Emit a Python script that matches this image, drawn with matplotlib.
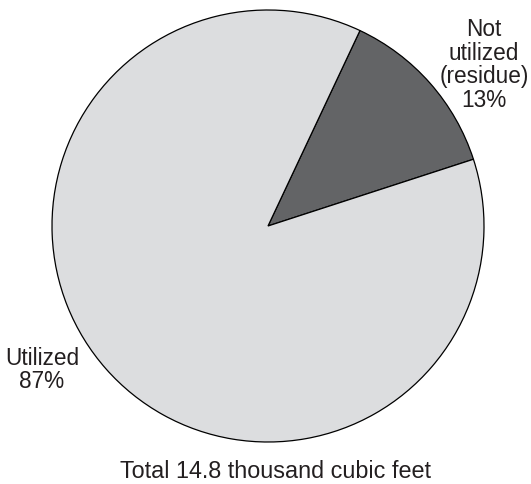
import matplotlib.pyplot as plt

plt.rcParams["font.family"] = ["Liberation Sans", "DejaVu Sans"]

# data
shares = [13, 87]
labels = ["Not\nutilized\n(residue)\n13%", "Utilized\n87%"]
colors = ["#636466", "#dcdddf"]
total_text = "Total 14.8 thousand cubic feet"

W, H = 531, 484
fig = plt.figure(figsize=(W / 100, H / 100), dpi=100)
ax = fig.add_axes([0, 0, 1, 1])

cx, cy, r = 268, H - 226, 216
ax.pie(
    shares,
    colors=colors,
    startangle=18,
    center=(cx, cy),
    radius=r,
    wedgeprops=dict(edgecolor="black", linewidth=0.9),
    frame=True,
)
ax.set_xlim(0, W)
ax.set_ylim(0, H)
ax.set_aspect("equal")
ax.axis("off")

txt = dict(fontsize=16.3, color="#231f20", linespacing=1.05)
ax.text(484, H - 65, labels[0], ha="center", va="center", **txt)
ax.text(42, H - 370, labels[1], ha="center", va="center", **txt)
ax.text(275, H - 478, total_text, ha="center", va="baseline",
        fontsize=16.8, color="#231f20")

fig.savefig("out.png", dpi=100)
